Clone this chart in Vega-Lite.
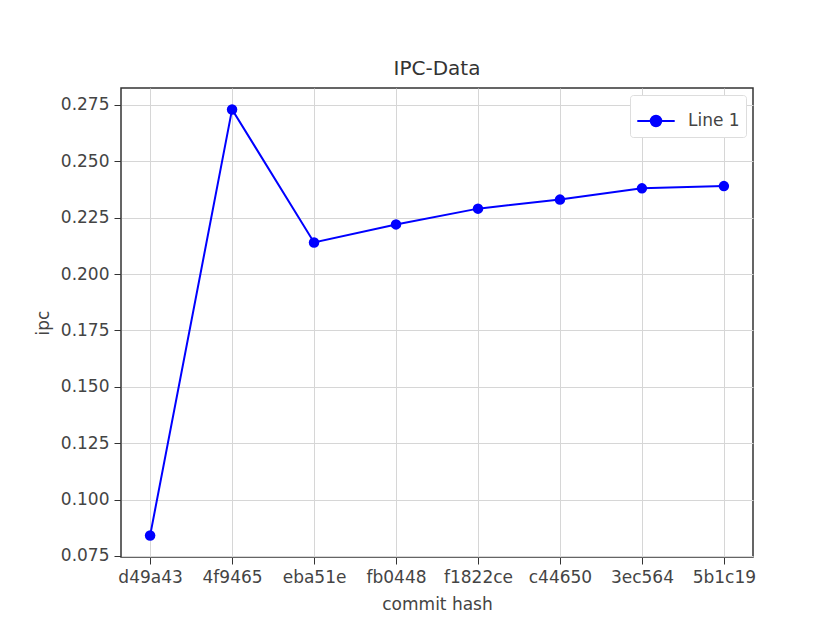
{
  "$schema": "https://vega.github.io/schema/vega-lite/v6.json",
  "autosize": {"type": "none"},
  "padding": {"left": 121, "top": 88, "right": 60, "bottom": 64},
  "width": 632,
  "height": 469,
  "background": "white",
  "title": {"text": "IPC-Data", "font": "DejaVu Sans", "fontSize": 20, "fontWeight": "normal", "color": "#333", "offset": 9},
  "data": {"values": [
    {"commit": "d49a43", "ipc": 0.084, "series": "Line 1"},
    {"commit": "4f9465", "ipc": 0.273, "series": "Line 1"},
    {"commit": "eba51e", "ipc": 0.214, "series": "Line 1"},
    {"commit": "fb0448", "ipc": 0.222, "series": "Line 1"},
    {"commit": "f1822ce", "ipc": 0.229, "series": "Line 1"},
    {"commit": "c44650", "ipc": 0.233, "series": "Line 1"},
    {"commit": "3ec564", "ipc": 0.238, "series": "Line 1"},
    {"commit": "5b1c19", "ipc": 0.239, "series": "Line 1"}
  ]},
  "mark": {"type": "line", "strokeWidth": 2, "point": {"filled": true, "size": 110}},
  "encoding": {
    "x": {"field": "commit", "type": "ordinal", "sort": null,
      "scale": {"type": "point", "padding": 0.355},
      "axis": {"title": "commit hash", "labelAngle": 0, "grid": true, "gridColor": "#d6d6d6",
        "domain": false, "tickColor": "#333", "tickSize": 7, "labelPadding": 5,
        "labelFont": "DejaVu Sans", "labelFontSize": 17, "labelColor": "#444",
        "titleFont": "DejaVu Sans", "titleFontSize": 17, "titleFontWeight": "normal", "titleColor": "#444", "titlePadding": 11}},
    "y": {"field": "ipc", "type": "quantitative",
      "scale": {"domain": [0.0745, 0.2825], "nice": false, "zero": false},
      "axis": {"title": "ipc", "values": [0.075, 0.1, 0.125, 0.15, 0.175, 0.2, 0.225, 0.25, 0.275], "format": ".3f",
        "grid": true, "gridColor": "#d6d6d6", "domain": false, "tickColor": "#333", "tickSize": 7, "labelPadding": 5,
        "labelFont": "DejaVu Sans", "labelFontSize": 17, "labelColor": "#444",
        "titleFont": "DejaVu Sans", "titleFontSize": 17, "titleFontWeight": "normal", "titleColor": "#444", "titlePadding": 8}},
    "color": {"field": "series", "type": "nominal",
      "scale": {"range": ["#0000ff"]},
      "legend": {"title": null, "orient": "top-right", "offset": 7,
        "symbolType": "M-1,0L1,0M-0.28,0A0.28,0.28 0 1,1 0.28,0A0.28,0.28 0 1,1 -0.28,0",
        "symbolSize": 1400, "symbolStrokeWidth": 2, "symbolFillColor": "#0000ff",
        "labelFont": "DejaVu Sans", "labelFontSize": 17, "labelColor": "#444", "labelOffset": 12,
        "strokeColor": "#dddddd", "fillColor": "white", "padding": 6, "cornerRadius": 3}}
  },
  "config": {"view": {"stroke": "#333", "strokeWidth": 1.5}}
}
